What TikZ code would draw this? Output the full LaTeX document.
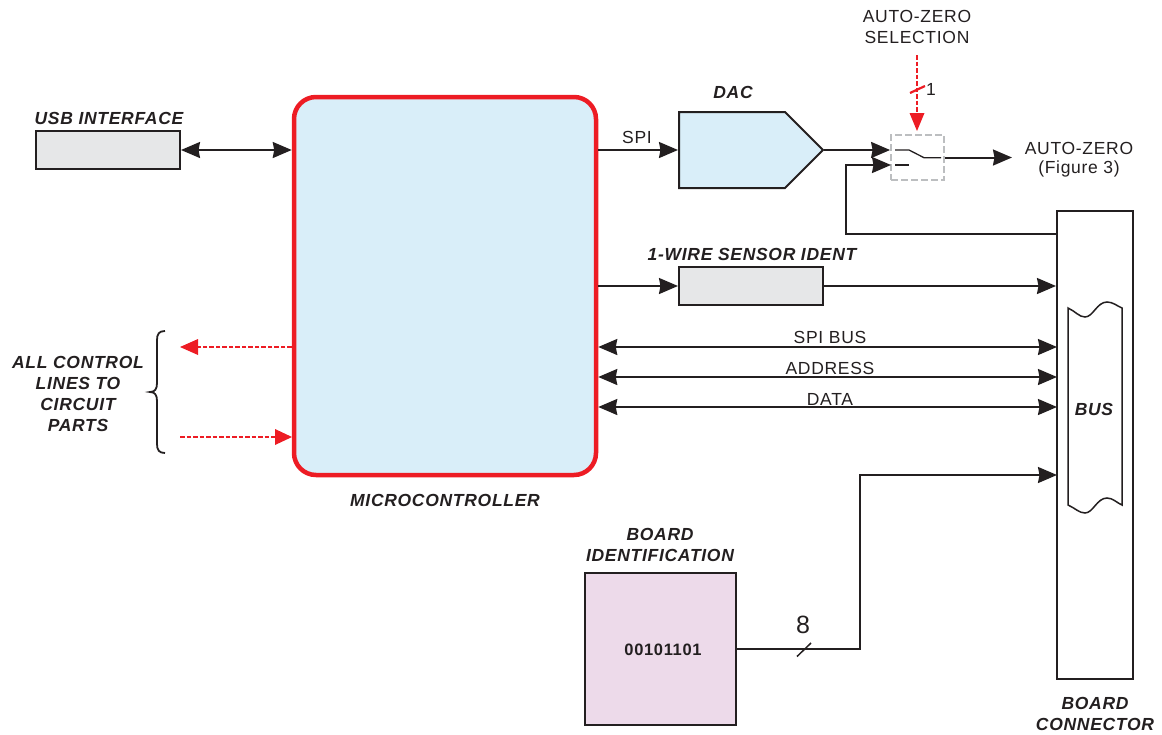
\documentclass[tikz,border=0pt]{standalone}
\usepackage{fontspec}
\setmainfont[LetterSpace=4]{Liberation Sans}
\usetikzlibrary{arrows.meta,shapes.symbols}
\definecolor{inkblack}{HTML}{231F20}
\definecolor{mcured}{HTML}{ED1C24}
\definecolor{mcublue}{HTML}{D9EEF9}
\definecolor{boxgray}{HTML}{E6E7E8}
\definecolor{boardpink}{HTML}{EDDAEA}
\definecolor{switchgray}{HTML}{BCBEC0}
\begin{document}
\begin{tikzpicture}[
    x=1pt, y=-1pt,
    >={Stealth[length=19pt,width=16pt,inset=1.5pt]},
    % Styles
    wire/.style={draw=inkblack, line width=2pt},
    redwire/.style={draw=mcured, line width=2.2pt, dash pattern=on 4.5pt off 2pt},
    block/.style={draw=inkblack, line width=2pt, fill=#1, inner sep=0pt},
    plainlabel/.style={font=\fontsize{17.5}{21}\selectfont, text=inkblack, align=center, inner sep=0pt},
    namelabel/.style={font=\fontsize{17.5}{21}\selectfont\bfseries\itshape, text=inkblack, align=center, inner sep=0pt}
]
\useasboundingbox (0,0) rectangle (1162,734);

% --- Blocks ---
\node[block=boxgray, minimum width=144pt, minimum height=38pt] (usb) at (108,150) {};
\node[block=mcublue, draw=mcured, line width=4.5pt, rounded corners=22pt, minimum width=302pt, minimum height=378pt] (mcu) at (445,286) {};
\node[block=mcublue, signal, signal to=east, signal pointer angle=90, minimum width=144pt, minimum height=76pt] (dac) at (732,150) {};
\node[block=boxgray, minimum width=144pt, minimum height=38pt] (ident) at (751,286) {};
\node[block=white, minimum width=76pt, minimum height=468pt] (conn) at (1095,445) {};
\node[block=boardpink, minimum width=151pt, minimum height=152pt] (board) at (660.5,649) {};
\node[draw=switchgray, line width=1.8pt, dash pattern=on 7pt off 3pt, minimum width=53pt, minimum height=45pt, inner sep=0pt] (sw) at (917.5,157.5) {};

% --- Free ends ---
\coordinate (swin) at (891,165);
\coordinate (feed) at (1057,234);
\coordinate (zero) at (1012,157.5);
\coordinate (selfrom) at (917,55);
\coordinate (selto) at (917,131);
\coordinate (lineout) at (180,347);
\coordinate (linein) at (180,437);
\coordinate (spibus) at (1057,347);
\coordinate (addrbus) at (1057,377);
\coordinate (databus) at (1057,407);
\coordinate (boardin) at (1057,475);
\coordinate (boardbend) at (860,649);

% --- Arrows ---
\draw[<->, wire] (usb) -- (mcu.west |- usb);
\draw[->, wire] (mcu.east |- dac.west) -- (dac.west);
\draw[->, wire] (dac.east) -- (sw.west |- dac.east);
\draw[->, wire] (feed) -| (846,165) -- (swin);
\draw[->, wire] (sw.east) -- (zero);
\draw[->, wire] (mcu.east |- ident) -- (ident.west);
\draw[->, wire] (ident.east) -- (conn.west |- ident);
\draw[<->, wire] (mcu.east |- spibus) -- (spibus);
\draw[<->, wire] (mcu.east |- addrbus) -- (addrbus);
\draw[<->, wire] (mcu.east |- databus) -- (databus);
\draw[->, wire] (board.east |- boardbend) -- (boardbend) |- (boardin);
\draw[wire, line width=1.5pt] (797,656.5) -- (811,643);

% Red control lines
\draw[redwire] (selfrom) -- (917,116);
\fill[mcured] (selto) -- (909.5,113) -- (924.5,113) -- cycle;
\draw[mcured, line width=2.2pt] (910,93) -- (925,86);
\draw[redwire] (mcu.west |- lineout) -- (197,347);
\fill[mcured] (lineout) -- (198,339) -- (198,355) -- cycle;
\draw[redwire] (linein) -- (276,437);
\fill[mcured] (292,437) -- (275,429) -- (275,445) -- cycle;

% --- Switch contacts ---
\draw[inkblack, line width=1.3pt] (895,150) -- (909,150) -- (924,157.7) -- (941,157.7);
\draw[inkblack, line width=1.3pt] (895,165) -- (909,165);

% --- Brace ---
\draw[inkblack, line width=1.8pt] (165,331) .. controls (159,331) and (157,334) .. (157,340) -- (157,383)
    .. controls (157,389) and (155,392) .. (150,392) .. controls (155,392) and (157,395) .. (157,401)
    -- (157,444) .. controls (157,450) and (159,453) .. (165,453);

% --- Bus scroll ---
\draw[inkblack, line width=1.5pt] (1068,308) .. controls (1075,311) and (1079,317) .. (1085,317)
    .. controls (1093,317) and (1097,302) .. (1107,302) .. controls (1113,302) and (1117,306) .. (1122,308)
    -- (1122,505) .. controls (1117,503) and (1113,498) .. (1107,498)
    .. controls (1097,498) and (1093,513) .. (1085,513) .. controls (1079,513) and (1075,508) .. (1068,505) -- cycle;

% --- Labels ---
\node[namelabel] (usblabel) at (109,118) {USB INTERFACE};
\node[namelabel] (daclabel) at (733,92) {DAC};
\node[namelabel] (identlabel) at (752,254) {1-WIRE SENSOR IDENT};
\node[namelabel] (mculabel) at (445,500) {MICROCONTROLLER};
\node[namelabel] (buslabel) at (1094,409) {BUS};
\node[namelabel] (ctrllabel) at (78,394) {ALL CONTROL\\LINES TO\\CIRCUIT\\PARTS};
\node[namelabel] (boardlabel) at (660,545) {BOARD\\IDENTIFICATION};
\node[namelabel] (connlabel) at (1095,714) {BOARD\\CONNECTOR};
\node[namelabel, font=\fontsize{16.5}{19}\selectfont\bfseries] (code) at (663,650) {00101101};
\node[plainlabel] (spilabel) at (637,137) {SPI};
\node[plainlabel] (spibuslabel) at (830,337) {SPI BUS};
\node[plainlabel] (addrlabel) at (830,368) {ADDRESS};
\node[plainlabel] (datalabel) at (830,399) {DATA};
\node[plainlabel] (sellabel) at (917,26.5) {AUTO-ZERO\\SELECTION};
\node[plainlabel] (onelabel) at (931,89) {1};
\node[plainlabel] (zerolabel) at (1079,148) {AUTO-ZERO};
\node[plainlabel] (figlabel) at (1079,169) {(Figure 3)};
\node[plainlabel, font=\fontsize{25}{28}\selectfont] (eightlabel) at (803,625) {8};

\end{tikzpicture}
\end{document}
